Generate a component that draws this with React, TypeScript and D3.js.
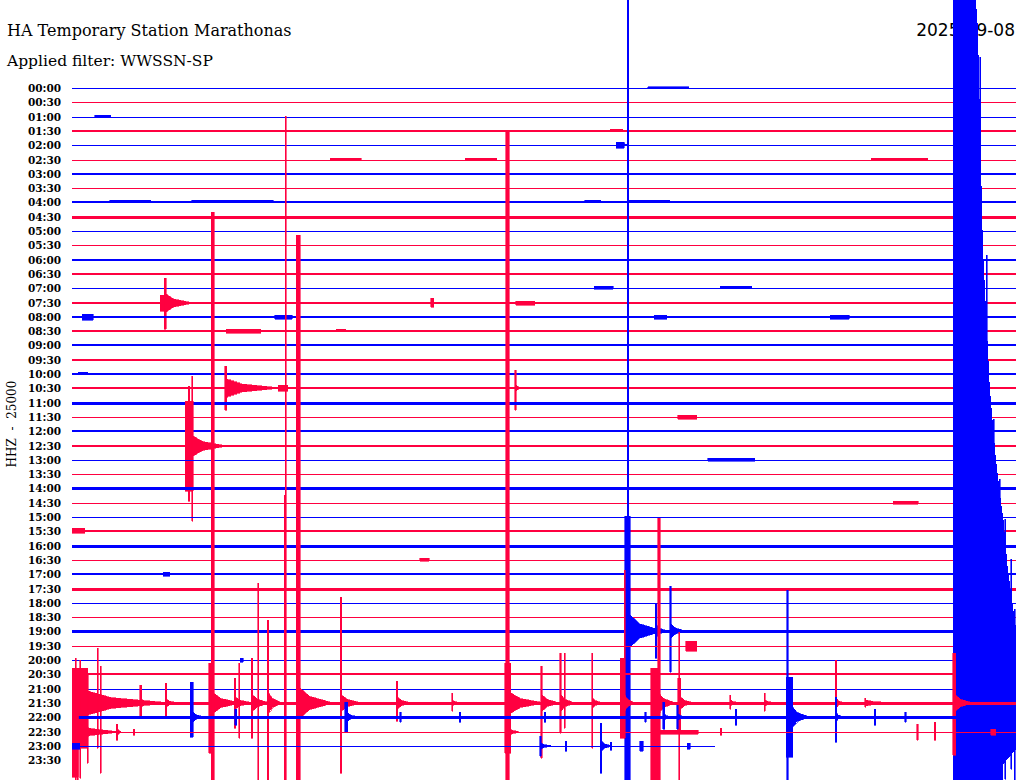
import React from 'react';
import * as d3 from 'd3';

// Helicorder: HA Temporary Station Marathonas, HHZ, 2025-09-08
const titleText = 'HA Temporary Station Marathonas';
const filterText = 'Applied filter: WWSSN-SP';
const dateText = '2025-09-08';
const channelText = 'HHZ  -  25000';

const rowLabels = [
  '00:00', '00:30', '01:00', '01:30', '02:00', '02:30', '03:00', '03:30',
  '04:00', '04:30', '05:00', '05:30', '06:00', '06:30', '07:00', '07:30',
  '08:00', '08:30', '09:00', '09:30', '10:00', '10:30', '11:00', '11:30',
  '12:00', '12:30', '13:00', '13:30', '14:00', '14:30', '15:00', '15:30',
  '16:00', '16:30', '17:00', '17:30', '18:00', '18:30', '19:00', '19:30',
  '20:00', '20:30', '21:00', '21:30', '22:00', '22:30', '23:00', '23:30',
];

// background noise level of each row (trace units)
const rowNoise = [
  0, 0, 0, 0.5, 0, 0, 1, 0, 0.5, 2, 0, 0, 1.5, 1.5, 0, 1.5,
  1.5, 0.5, 1.5, 1.5, 0.5, 1, 2, 0, 0.5, 1.5, 0, 0, 2, 0, 0, 0.5,
  2, 0, 0.5, 2, 0, 0, 2, 0, 0, 1.5, 0, 2, 2, 0, 0, 0,
];

// last row with data and the minute where data stops
const lastDataRow = 46;
const lastDataMinute = 20.43;

// events: [row, minute, up, down, width(min), coda(min), codaAmp]
const events: number[][] = [
  [0, 18.3, 1.5, 0.5, 1.3, 0, 0],
  [2, 0.73, 2, 0, 0.5, 0, 0],
  [3, 17.1, 2, 0, 0.4, 0, 0],
  [4, 17.3, 3, 3, 0.25, 0.15, 1.5],
  [5, 8.2, 2, 0, 1.0, 0, 0],
  [5, 12.5, 2, 0, 1.0, 0, 0],
  [5, 25.4, 2, 0, 1.8, 0, 0],
  [8, 1.2, 2, 0, 1.3, 0, 0],
  [8, 3.8, 2, 0, 2.6, 0, 0],
  [8, 16.3, 2, 0, 0.5, 0, 0],
  [8, 17.7, 2, 0, 1.3, 0, 0],
  [14, 16.6, 2, 1, 0.6, 0, 0],
  [14, 20.6, 2, 0, 1.0, 0, 0],
  [15, 2.8, 8, 8, 0.13, 0, 0],
  [15, 2.93, 25, 26, 0.06, 0.8, 9],
  [15, 11.4, 5, 4, 0.1, 0.1, 1],
  [15, 14.1, 2, 2, 0.6, 0, 0],
  [16, 0.33, 3, 3, 0.35, 0, 0],
  [16, 6.45, 2, 2, 0.55, 0, 0],
  [16, 18.5, 2, 2, 0.4, 0, 0],
  [16, 24.1, 2, 2, 0.6, 0, 0],
  [17, 4.9, 2, 2, 1.1, 0, 0],
  [17, 8.4, 2, 0, 0.3, 0, 0],
  [20, 0.2, 2, 0, 0.3, 0, 0],
  [21, 4.85, 22, 22, 0.06, 1.6, 9],
  [21, 14.07, 18, 22, 0.05, 0.15, 3],
  [21, 6.55, 3, 3, 0.3, 0, 0],
  [23, 19.25, 2, 2, 0.6, 0, 0],
  [25, 3.6, 45, 45, 0.25, 1.0, 10],
  [25, 3.7, 60, 55, 0.04, 0, 0],
  [25, 3.81, 70, 75, 0.03, 0, 0],
  [26, 20.2, 2, 1, 1.5, 0, 0],
  [29, 26.1, 2, 1, 0.8, 0, 0],
  [31, 0, 3, 2, 0.4, 0, 0],
  [33, 11.05, 2, 1, 0.3, 0, 0],
  [34, 2.9, 2, 2, 0.2, 0, 0],
  [38, 17.65, 640, 160, 0.05, 0, 0],
  [38, 17.57, 115, 160, 0.17, 1.0, 16],
  [38, 18.53, 28, 27, 0.05, 0.3, 6],
  [38, 19.0, 45, 41, 0.05, 0.4, 7],
  [39, 19.5, 5, 5, 0.35, 0, 0],
  [40, 5.35, 2, 2, 0.1, 0, 0],
  [42, 28.85, 632, 200, 0.03, 0, 0],
  [42, 29.05, 434, 200, 0.03, 0, 0],
  [42, 29.27, 270, 200, 0.03, 0, 0],
  [42, 29.46, 210, 200, 0.03, 0, 0],
  [42, 29.65, 170, 90, 0.03, 0, 0],
  [42, 29.84, 130, 80, 0.03, 0, 0],
  [42, 29.95, 80, 100, 0.03, 0, 0],
  [43, 0, 35, 45, 0.5, 2.5, 12],
  [43, 0.1, 45, 80, 0.03, 0, 0],
  [43, 0.25, 43, 75, 0.03, 0, 0],
  [43, 0.48, 30, 60, 0.03, 0, 0],
  [43, 0.8, 55, 45, 0.03, 0, 0],
  [43, 0.9, 37, 70, 0.03, 0, 0],
  [43, 2.16, 18, 15, 0.05, 0.3, 4],
  [43, 2.96, 20, 15, 0.05, 0.3, 4],
  [43, 4.35, 40, 50, 0.15, 0.8, 10],
  [43, 4.42, 491, 100, 0.1, 0, 0],
  [43, 5.15, 25, 25, 0.05, 0.5, 6],
  [43, 5.3, 40, 35, 0.03, 0, 0],
  [43, 5.7, 45, 35, 0.05, 0.5, 8],
  [43, 5.91, 120, 80, 0.03, 0, 0],
  [43, 6.2, 83, 77, 0.05, 0.4, 10],
  [43, 6.74, 208, 80, 0.06, 0, 0],
  [43, 6.77, 587, 80, 0.03, 0, 0],
  [43, 7.12, 468, 80, 0.13, 1.0, 15],
  [43, 8.52, 106, 70, 0.05, 0.6, 8],
  [43, 10.3, 22, 18, 0.05, 0.4, 6],
  [43, 12.07, 10, 8, 0.03, 0.2, 3],
  [43, 13.75, 40, 50, 0.2, 1.0, 10],
  [43, 13.79, 572, 80, 0.1, 0, 0],
  [43, 14.9, 37, 55, 0.05, 0.5, 8],
  [43, 15.5, 50, 30, 0.05, 0.4, 8],
  [43, 15.65, 50, 25, 0.03, 0, 0],
  [43, 16.52, 50, 45, 0.03, 0.3, 5],
  [43, 17.42, 45, 35, 0.15, 0.3, 8],
  [43, 17.55, 133, 35, 0.04, 0, 0],
  [43, 18.4, 35, 80, 0.25, 0.5, 10],
  [43, 18.62, 185, 80, 0.08, 0, 0],
  [43, 19.25, 25, 30, 0.1, 0.4, 6],
  [43, 19.28, 71, 80, 0.03, 0, 0],
  [43, 20.9, 8, 6, 0.03, 0.3, 3],
  [43, 22.0, 10, 8, 0.03, 0.3, 3],
  [43, 24.25, 43, 12, 0.05, 0.2, 5],
  [43, 25.2, 5, 4, 0.03, 0.8, 3],
  [43, 27.99, 50, 52, 0.1, 0.5, 8],
  [44, 3.75, 35, 20, 0.1, 0.3, 5],
  [44, 5.18, 8, 8, 0.05, 0, 0],
  [44, 8.67, 15, 15, 0.1, 0.3, 4],
  [44, 10.42, 5, 5, 0.05, 0, 0],
  [44, 12.3, 5, 5, 0.05, 0, 0],
  [44, 15.0, 5, 5, 0.05, 0, 0],
  [44, 18.2, 5, 5, 0.05, 0, 0],
  [44, 18.78, 15, 12, 0.05, 0.2, 3],
  [44, 19.22, 12, 12, 0.05, 0.2, 3],
  [44, 21.07, 8, 8, 0.05, 0, 0],
  [44, 22.7, 40, 40, 0.2, 0.5, 10],
  [44, 22.72, 127, 70, 0.04, 0, 0],
  [44, 24.25, 20, 25, 0.05, 0.2, 4],
  [44, 25.5, 8, 8, 0.05, 0, 0],
  [44, 26.47, 5, 5, 0.05, 0, 0],
  [45, 0, 30, 45, 0.2, 1.2, 8],
  [45, 0.16, 25, 50, 0.03, 0, 0],
  [45, 1.4, 8, 8, 0.06, 0.1, 3],
  [45, 1.94, 3, 3, 0.05, 0, 0],
  [45, 13.79, 12, 12, 0.1, 0.3, 4],
  [45, 18.7, 2, 2, 1.2, 0, 0],
  [45, 20.6, 4, 3, 0.05, 0, 0],
  [45, 26.85, 8, 8, 0.05, 0, 0],
  [45, 27.4, 10, 8, 0.05, 0, 0],
  [45, 29.2, 3, 3, 0.15, 0, 0],
  [46, 0, 3, 3, 0.25, 0, 0],
  [46, 14.87, 10, 10, 0.05, 0.3, 3],
  [46, 15.67, 5, 5, 0.05, 0, 0],
  [46, 16.78, 23, 27, 0.05, 0.3, 5],
  [46, 17.1, 4, 4, 0.05, 0, 0],
  [46, 18.05, 5, 5, 0.1, 0, 0],
  [46, 19.55, 3, 3, 0.1, 0, 0],
];

// saturated record of the large event late in the 21:00 row: [minute, up, down]
const saturatedRow = 42;
const saturatedEnvelope: number[][] = [
  [27.99, 700, 200],
  [28.7, 700, 200],
  [28.79, 660, 200],
  [28.95, 440, 200],
  [29.17, 300, 200],
  [29.36, 230, 200],
  [29.55, 180, 200],
  [29.6, 170, 75],
  [29.74, 120, 70],
  [30.0, 60, 60],
];

const W = 1024;
const H = 780;
const BLUE = '#0000ff';
const RED = '#ff0040';

export default function App() {
  const x = d3.scaleLinear().domain([0, 30]).range([72, 1016]);
  const y = d3.scalePoint<string>().domain(rowLabels).range([88, 760.1]);
  const amp = d3.scaleLinear().domain([0, 1]).range([0, 1]);
  const color = (i: number) => (i % 2 === 0 ? BLUE : RED);
  const base = (i: number) => Math.round(y(rowLabels[i]) as number);

  const area = (b: number) =>
    d3
      .area<number[]>()
      .x((d) => x(d[0]))
      .y0((d) => b + amp(d[2]))
      .y1((d) => b - amp(d[1]));

  const eventPath = (e: number[]) => {
    const [row, t, up, down, w, coda, ca] = e;
    const pts: number[][] = [
      [t, up, down],
      [t + Math.max(w, 0.032), up, down],
    ];
    if (coda > 0) {
      const t1 = t + Math.max(w, 0.032);
      pts.push([t1, ca, ca]);
      pts.push([t1 + coda * 0.3, ca * 0.45, ca * 0.45]);
      pts.push([t1 + coda, 0.5, 0.5]);
    }
    return area(base(row))(pts) || '';
  };

  return (
    <svg
      width={W}
      height={H}
      style={{ position: 'absolute', left: 0, top: 0, background: '#fff', overflow: 'hidden' }}
    >
      <rect x={0} y={0} width={W} height={H} fill="#ffffff" />
      <text x={7} y={36} fontFamily="DejaVu Serif" fontSize={16} fill="#000">
        {titleText}
      </text>
      <text x={7} y={66} fontFamily="DejaVu Serif" fontSize={15.5} fill="#000">
        {filterText}
      </text>
      <text x={1015} y={36} textAnchor="end" fontFamily="DejaVu Sans" fontSize={17} fill="#000">
        {dateText}
      </text>
      <text
        transform="translate(16,424) rotate(-90)"
        textAnchor="middle"
        fontFamily="DejaVu Serif"
        fontSize={12}
        fill="#000"
        style={{ whiteSpace: 'pre' }}
      >
        {channelText}
      </text>
      {rowLabels.map((lab, i) => (
        <text
          key={'l' + i}
          x={61}
          y={base(i) + 4}
          textAnchor="end"
          fontFamily="DejaVu Serif"
          fontWeight="bold"
          fontSize={10.5}
          fill="#000"
        >
          {lab}
        </text>
      ))}
      <g shapeRendering="crispEdges">
        {rowLabels.map((lab, i) => {
          if (i > lastDataRow) return null;
          const b = base(i);
          const endX = i === lastDataRow ? x(lastDataMinute) : x(30);
          const sw = 1 + rowNoise[i];
          return (
            <g key={'r' + i}>
              <rect x={x(0)} y={b - sw / 2} width={endX - x(0)} height={sw} fill={color(i)} />
              {events
                .filter((e) => e[0] === i)
                .map((e, k) => (
                  <path key={k} d={eventPath(e)} fill={color(i)} stroke={color(i)} strokeWidth={0.6} />
                ))}
              {i === saturatedRow && (
                <path d={area(b)(saturatedEnvelope) || ''} fill={color(i)} />
              )}
            </g>
          );
        })}
      </g>
    </svg>
  );
}
